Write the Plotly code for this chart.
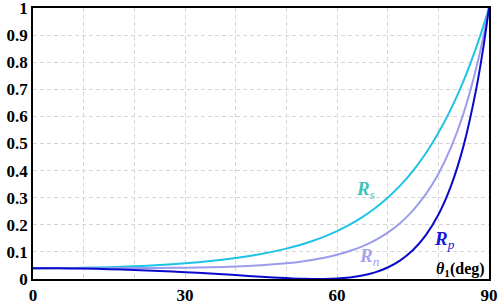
import plotly.graph_objects as go

angles = [0, 5, 10, 15, 20, 25, 30, 35, 40, 45, 50, 52.5, 55, 57.5, 60, 62.5, 65,
          67.5, 70, 72.5, 75, 77.5, 80, 82.5, 85, 87.5, 89, 90]
Rs = [0.040, 0.0404, 0.0417, 0.0438, 0.0471, 0.0516, 0.0578, 0.0661, 0.0772, 0.0920,
      0.1121, 0.1246, 0.1393, 0.1564, 0.1766, 0.2003, 0.2281, 0.2608, 0.2997, 0.3453,
      0.3993, 0.4633, 0.5387, 0.6276, 0.7322, 0.8556, 0.9395, 1.0]
Rp = [0.040, 0.0396, 0.0384, 0.0363, 0.0334, 0.0298, 0.0253, 0.0200, 0.0143, 0.0085,
      0.0033, 0.0013, 0.0002, 0.0002, 0.0018, 0.0058, 0.0130, 0.0246, 0.0425, 0.0688,
      0.1068, 0.1608, 0.2369, 0.3435, 0.4931, 0.7036, 0.8688, 1.0]
Rn = [0.040, 0.0400, 0.0401, 0.0401, 0.0403, 0.0407, 0.0416, 0.0431, 0.0458, 0.0503,
      0.0577, 0.0630, 0.0698, 0.0783, 0.0892, 0.1031, 0.1206, 0.1427, 0.1711, 0.2071,
      0.2531, 0.3121, 0.3878, 0.4856, 0.6127, 0.7796, 0.9042, 1.0]

x_tickvals = [0, 30, 60, 90]
x_ticktext = ["<b>0</b>", "<b>30</b>", "<b>60</b>", "<b>90</b>"]
y_tickvals = [0, 0.1, 0.2, 0.3, 0.4, 0.5, 0.6, 0.7, 0.8, 0.9, 1]
y_ticktext = ["<b>%s</b>" % s for s in ["0", "0.1", "0.2", "0.3", "0.4", "0.5", "0.6", "0.7", "0.8", "0.9", "1"]]

fig = go.Figure()
fig.add_trace(go.Scatter(x=angles, y=Rs, mode="lines", line=dict(color="#1EC3E6", width=2, shape="spline", smoothing=0.6)))
fig.add_trace(go.Scatter(x=angles, y=Rn, mode="lines", line=dict(color="#9C9CEC", width=2, shape="spline", smoothing=0.6)))
fig.add_trace(go.Scatter(x=angles, y=Rp, mode="lines", line=dict(color="#0A0ACC", width=2, shape="spline", smoothing=0.6)))

font = "Liberation Serif"
ann = [
    (65.7, 0.33, "<b><i>R</i></b><sub><i>s</i></sub>", "#3CC4B6", 19),
    (66.4, 0.08, "<b><i>R</i></b><sub><i>n</i></sub>", "#A4A4EE", 19),
    (81.2, 0.145, "<b><i>R</i></b><sub><i>p</i></sub>", "#1414D2", 19),
    (84.3, 0.035, "<b><i>θ</i><sub>1</sub>(deg)</b>", "#000000", 16),
]
for x, y, t, c, s in ann:
    fig.add_annotation(x=x, y=y, text=t, showarrow=False, font=dict(family=font, size=s, color=c))

fig.update_layout(
    width=504, height=306, margin=dict(l=33, r=15, t=8, b=27),
    plot_bgcolor="white", paper_bgcolor="white", showlegend=False,
    font=dict(family=font, size=17, color="black"),
)
grid = dict(showgrid=True, gridcolor="#D6D6D6", griddash="4px,3px", gridwidth=1)
common = dict(showline=True, linecolor="black", linewidth=1.5, mirror=True,
              ticks="", tickfont=dict(family=font, size=17, color="black"),
              zeroline=False, automargin=False, ticklabeloverflow="allow", **grid)
fig.update_xaxes(range=[0, 90], tickvals=x_tickvals, ticktext=x_ticktext,
                 minor=dict(tick0=0, dtick=10, ticks="", **grid), **common)
fig.update_yaxes(range=[0, 1], tickvals=y_tickvals, ticktext=y_ticktext, ticklabelstandoff=0, **common)

fig.write_html("out.html")
